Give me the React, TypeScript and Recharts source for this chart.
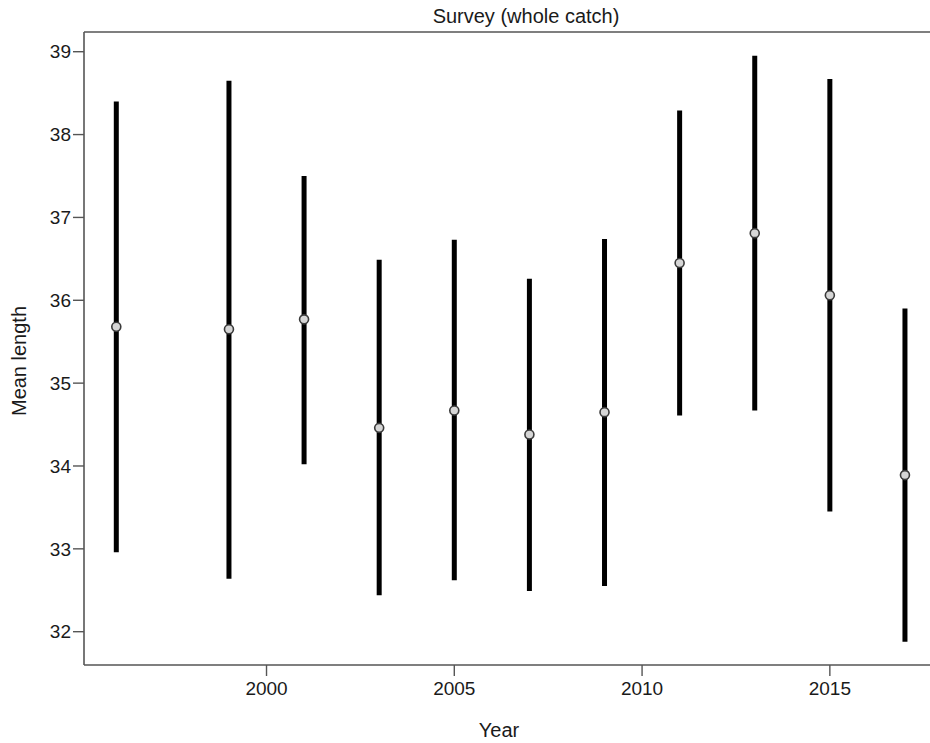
import React from 'react';
import { ScatterChart, Scatter, XAxis, YAxis, ErrorBar, ReferenceLine } from 'recharts';

const years = [1996, 1999, 2001, 2003, 2005, 2007, 2009, 2011, 2013, 2015, 2017];
const means = [35.68, 35.65, 35.77, 34.46, 34.67, 34.38, 34.65, 36.45, 36.81, 36.06, 33.89];
const lows = [32.96, 32.64, 34.02, 32.44, 32.62, 32.49, 32.55, 34.61, 34.67, 33.45, 31.88];
const highs = [38.4, 38.65, 37.5, 36.49, 36.73, 36.26, 36.74, 38.29, 38.95, 38.67, 35.9];

const xTicks = [2000, 2005, 2010, 2015];
const yTicks = [32, 33, 34, 35, 36, 37, 38, 39];
const xDomain = [1995.14, 2017.72];
const yDomain = [31.598, 39.238];

const title = 'Survey (whole catch)';
const xLabel = 'Year';
const yLabel = 'Mean length';

const data = years.map((y, i) => ({
  year: y,
  mean: means[i],
  err: [means[i] - lows[i], highs[i] - means[i]],
}));

const FONT = '"Liberation Sans", Arial, sans-serif';
const AXIS = '#555';

const Dot = (props: any) => (
  <circle cx={props.cx} cy={props.cy} r={4.5} fill="#d6d6d6" stroke="#3a3a3a" strokeWidth={1.6} />
);

export default function App() {
  return (
    <div style={{ position: 'absolute', left: 0, top: 0, width: 930, height: 743, overflow: 'hidden', background: '#fff' }}>
      <ScatterChart
        width={940}
        height={743}
        margin={{ top: 32, right: 8, bottom: 0, left: 0 }}
        style={{ fontFamily: FONT }}
      >
        <XAxis
          type="number"
          dataKey="year"
          domain={xDomain}
          ticks={xTicks}
          allowDataOverflow
          height={78}
          tickSize={11}
          tickMargin={6}
          axisLine={{ stroke: AXIS, strokeWidth: 1.6 }}
          tickLine={{ stroke: AXIS, strokeWidth: 1.4 }}
          tick={{ fill: '#1a1a1a', fontSize: 19, fontFamily: FONT }}
        />
        <YAxis
          type="number"
          dataKey="mean"
          domain={yDomain}
          ticks={yTicks}
          allowDataOverflow
          width={84}
          tickSize={11}
          tickMargin={2}
          axisLine={{ stroke: AXIS, strokeWidth: 1.6 }}
          tickLine={{ stroke: AXIS, strokeWidth: 1.4 }}
          tick={{ fill: '#1a1a1a', fontSize: 19, fontFamily: FONT }}
        />
        <ReferenceLine y={yDomain[1]} stroke={AXIS} strokeWidth={1.6} ifOverflow="extendDomain" />
        <Scatter data={data} dataKey="mean" shape={Dot} isAnimationActive={false}>
          <ErrorBar dataKey="err" direction="y" width={0} stroke="#000" strokeWidth={5} isAnimationActive={false} />
        </Scatter>
        <text x={526} y={23} textAnchor="middle" fontSize={20} fill="#1a1a1a" fontFamily={FONT}>
          {title}
        </text>
        <text x={499} y={737} textAnchor="middle" fontSize={20} fill="#1a1a1a" fontFamily={FONT}>
          {xLabel}
        </text>
        <text
          x={26}
          y={361}
          textAnchor="middle"
          fontSize={20}
          fill="#1a1a1a"
          fontFamily={FONT}
          transform="rotate(-90 26 361)"
        >
          {yLabel}
        </text>
      </ScatterChart>
    </div>
  );
}
